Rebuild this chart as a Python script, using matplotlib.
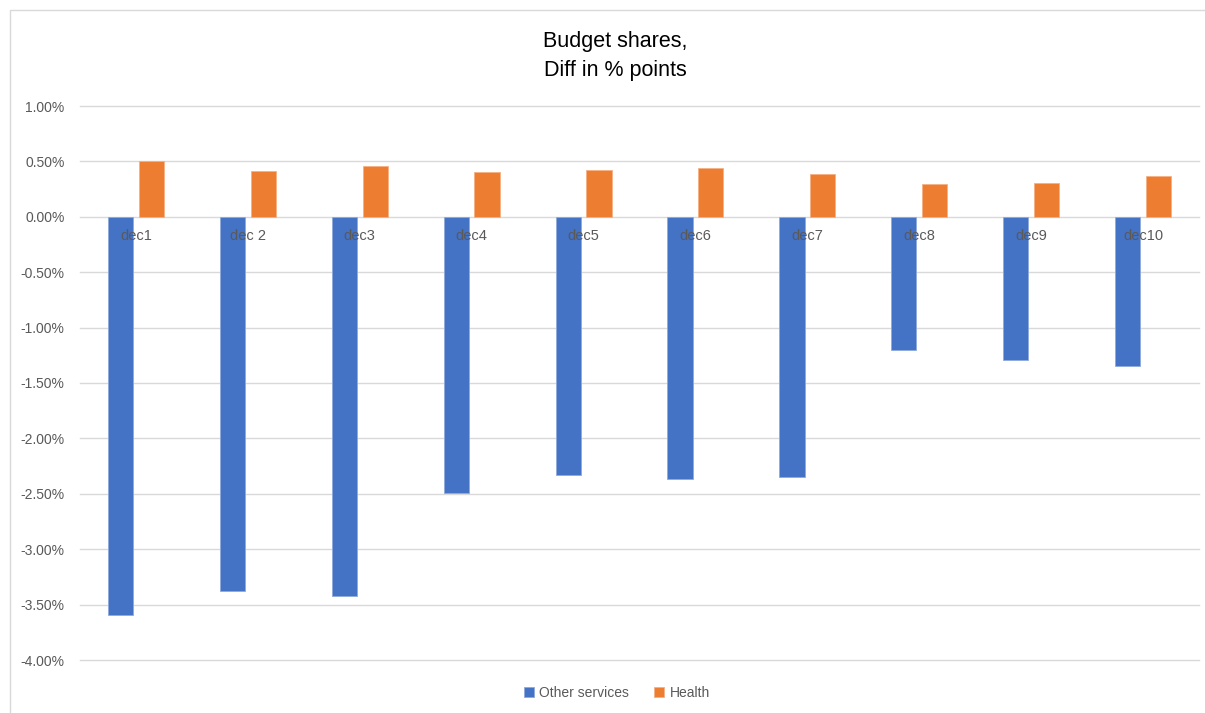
import numpy as np
import matplotlib.pyplot as plt
from matplotlib.patches import Rectangle
from matplotlib.ticker import FuncFormatter

# values (% points)
categories = ["dec1", "dec 2", "dec3", "dec4", "dec5", "dec6", "dec7", "dec8", "dec9", "dec10"]
other_services = [-3.59, -3.38, -3.42, -2.49, -2.33, -2.37, -2.35, -1.20, -1.29, -1.345]
health = [0.50, 0.415, 0.46, 0.405, 0.425, 0.44, 0.39, 0.30, 0.305, 0.37]

plt.rcParams['font.family'] = ['Liberation Sans', 'DejaVu Sans']
txt_col = "#595959"
grid_col = "#d9d9d9"

fig = plt.figure(figsize=(12.05, 7.13), dpi=100)
# light chart-area border
fig.patches.append(Rectangle((10/1205, -0.01), 1.2, 1 - 10/713 + 0.01, transform=fig.transFigure,
                             fill=False, edgecolor=grid_col, linewidth=1))

ax = fig.add_axes([80/1205, 1 - 660/713, 1119/1205, 554/713])

x = np.arange(len(categories))
w = 0.225
gap = 0.05
ax.bar(x - (w + gap)/2, other_services, w, color="#4472c4", edgecolor="#8faadc", linewidth=0.6,
       label="Other services", zorder=3)
ax.bar(x + (w + gap)/2, health, w, color="#ed7d31", edgecolor="#f4b183", linewidth=0.6,
       label="Health", zorder=3)

ax.set_xlim(-0.5, len(categories) - 0.5)
ax.set_ylim(-4.0, 1.0)
ax.set_yticks(np.arange(-4.0, 1.01, 0.5))
ax.yaxis.set_major_formatter(FuncFormatter(lambda v, p: f"{v:.2f}%"))
ax.grid(axis="y", color=grid_col, linewidth=1, zorder=0)
for gl in ax.get_ygridlines():
    gl.set_clip_on(False)
ax.tick_params(axis="y", length=0, pad=11, labelsize=10, labelcolor=txt_col)
ax.set_xticks([])
for s in ax.spines.values():
    s.set_visible(False)

# category labels sit just below the zero line
for xi, lab in zip(x, categories):
    ax.text(xi, -0.11, lab, ha="center", va="top", fontsize=10.5, color=txt_col, zorder=4)

fig.text(615/1205, 1 - 56/713, "Budget shares,\nDiff in % points", ha="center", va="center",
         fontsize=15.5, color="#000000", linespacing=1.45)

leg = fig.legend(loc="center", bbox_to_anchor=(617/1205, 1 - 693/713), ncol=2, frameon=False,
                 fontsize=10, handlelength=0.7, handleheight=0.7, handletextpad=0.4, columnspacing=1.8)
for t in leg.get_texts():
    t.set_color(txt_col)

fig.savefig("out.png", dpi=100)
